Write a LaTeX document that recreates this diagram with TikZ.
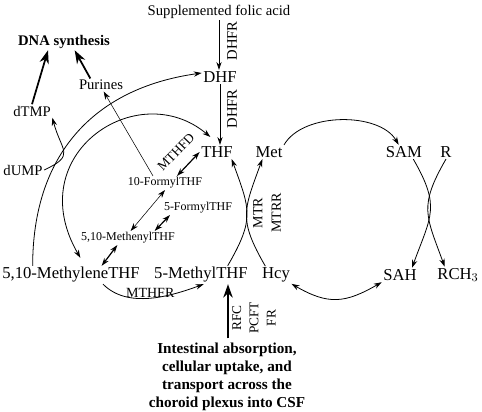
\documentclass[tikz,border=0pt]{standalone}
\usepackage{fontspec}
\setmainfont{Liberation Serif}
\usetikzlibrary{arrows.meta}

\begin{document}
\begin{tikzpicture}[x=0.75pt, y=0.75pt,
	A/.style={line width=0.6pt, -{Stealth[length=6pt, width=4pt]}},
	AA/.style={line width=#1, {Stealth[length=6pt, width=4pt]}-{Stealth[length=6pt, width=4pt]}},
	AA/.default=0.6pt,
	B/.style={line width=#1, -{Stealth[length=10pt, width=7pt]}},
	B/.default=1.3pt,
	M/.style={font=\fontsize{12.5}{14}\selectfont, inner sep=1pt},
	E/.style={font=\fontsize{11}{13}\selectfont, inner sep=1pt},
	S/.style={font=\fontsize{9}{10}\selectfont, inner sep=1pt},
	Z/.style={font=\fontsize{10.5}{14}\selectfont, inner sep=1pt, align=center}]
		\useasboundingbox (0,0) rectangle (482,411);
		
		% compounds
		\node [E] (sfa) at (219,399) {Supplemented folic acid};
		\node [M] (dhf) at (220,334) {DHF};
		\node [M] (thf) at (217,259) {THF};
		\node [M] (met) at (269,259) {Met};
		\node [M] (sam) at (404,259) {SAM};
		\node [M] (rgrp) at (446,259) {R};
		\node [M] (mlene) at (71,136) {5,10-MethyleneTHF};
		\node [M] (mthf) at (201,136) {5-MethylTHF};
		\node [M] (hcy) at (276,136) {Hcy};
		\node [M] (sah) at (400,136) {SAH};
		\node [M] (rch) at (458,136) {RCH$_3$};
		\node [E] (dump) at (23,241) {dUMP};
		\node [E] (dtmp) at (32,300) {dTMP};
		\node [E] (pur) at (101,326) {Purines};
		\node [E, font=\fontsize{11}{13}\selectfont\bfseries] (dna) at (64,369) {DNA synthesis};
		\node [S] (fthf) at (165,228) {10-FormylTHF};
		\node [S] (ffthf) at (198,203) {5-FormylTHF};
		\node [S] (menyl) at (128,173) {5,10-MethenylTHF};
		\node [font=\fontsize{11.4}{13.5}\selectfont\bfseries, align=center] (intake) at (227,34)
			{Intestinal absorption,\\ cellular uptake, and\\ transport across the\\ choroid plexus into CSF};
		
		% enzymes
		\node [E, rotate=90] (dhfra) at (232,370) {DHFR};
		\node [E, rotate=90] (dhfrb) at (232,302) {DHFR};
		\node [Z, rotate=90] (mtr) at (267,198) {MTR\\MTRR};
		\node [Z, font=\fontsize{10}{13}\selectfont, rotate=90] (rfc) at (254,93) {RFC\\PCFT\\FR};
		\node [font=\fontsize{10}{12}\selectfont, inner sep=0pt, rotate=46] (mthfd) at (176,259) {MTHFD};
		
		% folate cycle
		\draw [A] (sfa.south) -- (sfa.south |- dhf.north);
		\draw [A] (dhf.south) -- (dhf.south |- thf.north);
		\draw [A] ([xshift=24pt]mlene.north west) to [out=90, in=188, looseness=1.1] ([yshift=3pt]dhf.west);
		\draw [AA] ([shift={(7pt,6pt)}]mlene.north) to [out=120, in=140, out looseness=1.73, in looseness=1.37] ([shift={(-5pt,6pt)}]thf.north);
		\draw [A] ([xshift=24pt]mlene.south) to [out=-45, in=-160, looseness=0.9]
			node [midway, anchor=south, inner sep=0pt, font=\fontsize{10.5}{12}\selectfont] (mthfr) {MTHFR} ([xshift=2pt]mthf.south);
		\draw [A] ([xshift=20pt]mthf.north) to [out=60, in=-70, looseness=1.3] ([xshift=11pt]thf.south);
		\draw [A] ([xshift=-8pt]hcy.north) to [out=120, in=-110, looseness=1.3] ([xshift=-5pt]met.south);
		
		% interconversions
		\draw [AA=0.9pt] ([xshift=9pt]fthf.north) -- (thf.west);
		\draw [AA=0.4pt] (fthf.south) -- ([xshift=2pt]menyl.north);
		\draw [AA=0.9pt] ([xshift=-21pt]ffthf.south) -- ([xshift=20pt]menyl.north);
		\draw [AA=0.9pt] ([xshift=-8pt]menyl.south) -- ([xshift=23pt]mlene.north);
		\draw [A, line width=0.4pt] ([xshift=-9pt]fthf.north) -- ([xshift=2pt]pur.south);
		
		% DNA synthesis
		\draw [A] (dump.east) to [out=25, in=-75, looseness=1.7] (dtmp.south east);
		\draw [B] (dtmp.north) -- ([xshift=-12pt]dna.south);
		\draw [B] ([xshift=-8pt]pur.north) -- ([xshift=8pt]dna.south);
		
		% methionine cycle
		\draw [A] (met.north east) to [out=60, in=120, looseness=0.85] ([xshift=-4pt]sam.north);
		\draw [A] ([xshift=7pt]sam.south) to [out=-60, in=70, looseness=1.3] ([xshift=9pt]sah.north);
		\draw [A] (rgrp.south) to [out=-120, in=110, looseness=1.3] ([xshift=-10pt]rch.north);
		\draw [AA] (sah.south west) to [out=-150, in=-30, looseness=1.2] (hcy.south east);
		
		% uptake
		\draw [B=1.8pt] ([xshift=0.75pt]intake.north) -- ([xshift=0.75pt]intake.north |- mthf.south);
\end{tikzpicture}
\end{document}
